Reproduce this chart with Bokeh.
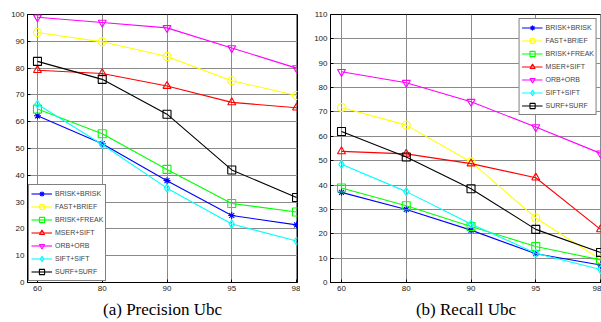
from bokeh.plotting import figure
from bokeh.layouts import row
from bokeh.models import Range1d, FixedTicker, Legend, LegendItem
from bokeh.embed import file_html
from bokeh.resources import INLINE

x_labels = ["60", "80", "90", "95", "98"]
series_names = ["BRISK+BRISK", "FAST+BRIEF", "BRISK+FREAK", "MSER+SIFT", "ORB+ORB", "SIFT+SIFT", "SURF+SURF"]

precision = {
    "BRISK+BRISK": [62.2, 51.8, 38.0, 25.0, 21.5],
    "FAST+BRIEF": [93.3, 89.8, 84.3, 75.3, 69.8],
    "BRISK+FREAK": [64.7, 55.5, 42.2, 29.5, 26.3],
    "MSER+SIFT": [79.2, 78.0, 73.3, 67.2, 65.2],
    "ORB+ORB": [99.0, 97.0, 95.0, 87.5, 80.0],
    "SIFT+SIFT": [66.5, 51.5, 35.2, 21.8, 15.5],
    "SURF+SURF": [82.5, 75.8, 62.8, 42.0, 31.7],
}
recall = {
    "BRISK+BRISK": [37.0, 30.0, 21.5, 11.8, 7.2],
    "FAST+BRIEF": [71.8, 64.6, 49.5, 26.5, 9.5],
    "BRISK+FREAK": [38.8, 31.5, 23.0, 14.8, 9.3],
    "MSER+SIFT": [53.8, 52.8, 48.8, 43.0, 21.8],
    "ORB+ORB": [86.5, 82.0, 74.2, 63.8, 53.0],
    "SIFT+SIFT": [48.5, 37.3, 24.0, 12.0, 5.3],
    "SURF+SURF": [62.0, 51.5, 38.5, 21.8, 12.3],
}

colors = {"BRISK+BRISK": "#0000ff", "FAST+BRIEF": "#ffff00", "BRISK+FREAK": "#00ff00",
          "MSER+SIFT": "#ff0000", "ORB+ORB": "#ff00ff", "SIFT+SIFT": "#00ffff", "SURF+SURF": "#000000"}
markers = {"BRISK+BRISK": "asterisk", "FAST+BRIEF": "circle", "BRISK+FREAK": "square",
           "MSER+SIFT": "triangle", "ORB+ORB": "inverted_triangle", "SIFT+SIFT": "diamond", "SURF+SURF": "square"}


def make(data, ymax, caption, legend_loc, legend_margin, width, left_border, right_border, xmin, xmax):
    xs = list(range(len(x_labels)))
    p = figure(width=width, height=322, output_backend="svg", toolbar_location=None,
               x_range=Range1d(xmin, xmax), y_range=Range1d(0, ymax),
               min_border_left=left_border, min_border_right=right_border,
               min_border_top=14, min_border_bottom=40)
    items = []
    for name in series_names:
        c = colors[name]
        l = p.line(xs, data[name], line_color=c, line_width=1.1)
        s = p.scatter(xs, data[name], marker=markers[name], size=8 if markers[name] != "asterisk" else 7,
                      line_color=c, fill_alpha=0, line_width=1.1)
        items.append(LegendItem(label=name, renderers=[l, s]))
    leg = Legend(items=items, location=legend_loc, border_line_color="black", border_line_width=1.5,
                 label_text_font="Liberation Sans", label_text_font_size="7px",
                 glyph_width=21, glyph_height=13, label_height=13, label_standoff=3,
                 spacing=0, padding=2, margin=legend_margin, background_fill_alpha=1)
    p.add_layout(leg)
    p.xaxis.ticker = FixedTicker(ticks=xs)
    p.xaxis.major_label_overrides = {i: t for i, t in enumerate(x_labels)}
    p.yaxis.ticker = FixedTicker(ticks=list(range(0, ymax + 1, 10)))
    for ax in (p.xaxis[0], p.yaxis[0]):
        ax.major_label_text_font = "Liberation Sans"
        ax.major_label_text_font_size = "8px"
        ax.major_label_text_color = "#222222"
        ax.major_tick_in = 3
        ax.major_tick_out = 0
        ax.minor_tick_line_color = None
        ax.axis_line_color = "black"
        ax.major_tick_line_color = "black"
        ax.major_label_standoff = 3
    p.xaxis.axis_label = caption
    p.xaxis.axis_label_text_font = "Liberation Serif"
    p.xaxis.axis_label_text_font_size = "17px"
    p.xaxis.axis_label_text_font_style = "normal"
    p.xaxis.axis_label_text_color = "black"
    p.xaxis.axis_label_standoff = 6
    p.grid.grid_line_color = "#8a8a8a"
    p.grid.grid_line_width = 1
    p.outline_line_color = "black"
    p.outline_line_width = 1
    p.background_fill_color = "white"
    return p


p1 = make(precision, 100, "(a) Precision Ubc", "bottom_left", 1, 300, 27, 3, -0.154, 4.015)
p2 = make(recall, 110, "(b) Recall Ubc", "top_right", 4, 301, 30, 0, -0.17, 4.015)
layout = row(p1, p2)
open("out.html", "w").write(file_html(layout, INLINE))
